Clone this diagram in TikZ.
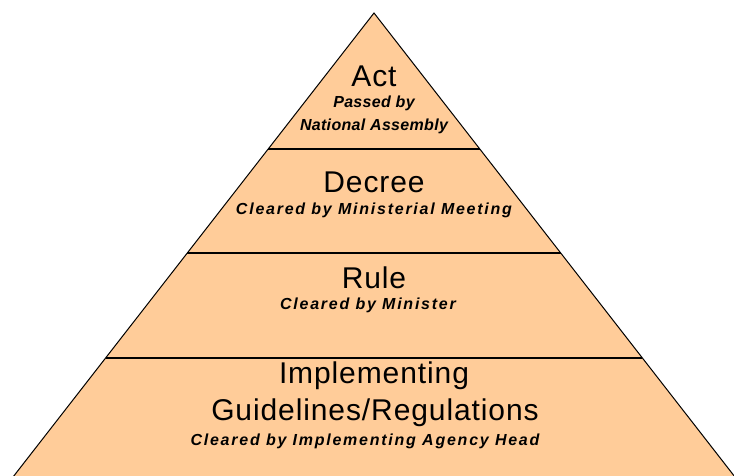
\documentclass[tikz,border=0pt]{standalone}
\usepackage{fontspec}
\setmainfont{Liberation Sans}
\newfontfamily\titlefont[LetterSpace=3]{Liberation Sans}
\newfontfamily\notefont[LetterSpace=11]{Liberation Sans}
\newfontfamily\notefonttight[LetterSpace=2]{Liberation Sans}
\definecolor{peach}{RGB}{255,204,153}
\begin{document}
\begin{tikzpicture}[x=1pt, y=-1pt,
        title/.style={anchor=base, inner sep=0pt, font=\titlefont\fontsize{30}{30}\selectfont},
        note/.style={anchor=base, inner sep=0pt, font=\notefont\bfseries\itshape\fontsize{16}{16}\selectfont},
        notetight/.style={anchor=base, inner sep=0pt, font=\notefonttight\bfseries\itshape\fontsize{16}{16}\selectfont},
        divider/.style={line width=1.5pt}]
        \useasboundingbox (0,0) rectangle (734,475);
        \clip (0,0) rectangle (734,475);

        % Pyramid
        \coordinate (top) at (374,13);
        \coordinate (baseL) at (-15,513);
        \coordinate (baseR) at (763,513);
        \draw[fill=peach, line width=1pt] (top) -- (baseR) -- (baseL) -- cycle;

        % Layer borders
        \coordinate (l1) at (268.2,149);
        \coordinate (r1) at (479.8,149);
        \coordinate (l2) at (187.3,253);
        \coordinate (r2) at (560.7,253);
        \coordinate (l3) at (105.6,358);
        \coordinate (r3) at (642.4,358);

        \draw[divider] (l1) -- (r1);
        \draw[divider] (l2) -- (r2);
        \draw[divider] (l3) -- (r3);

        % Nodes
        \node[title]     at (374,86)  (act)      {Act};
        \node[notetight] at (374,107) (actby)    {Passed by};
        \node[notetight] at (374,130) (actbody)  {National Assembly};

        \node[title]     at (374,192) (decree)   {Decree};
        \node[note]      at (374,214) (decreeby) {Cleared by Ministerial Meeting};

        \node[title]     at (374,288) (rule)     {Rule};
        \node[note]      at (368,309) (ruleby)   {Cleared by Minister};

        \node[title]     at (374,383) (impl)     {Implementing};
        \node[title]     at (375,420) (guide)    {Guidelines/Regulations};
        \node[note]      at (365,445) (implby)   {Cleared by Implementing Agency Head};
    \end{tikzpicture}
\end{document}
